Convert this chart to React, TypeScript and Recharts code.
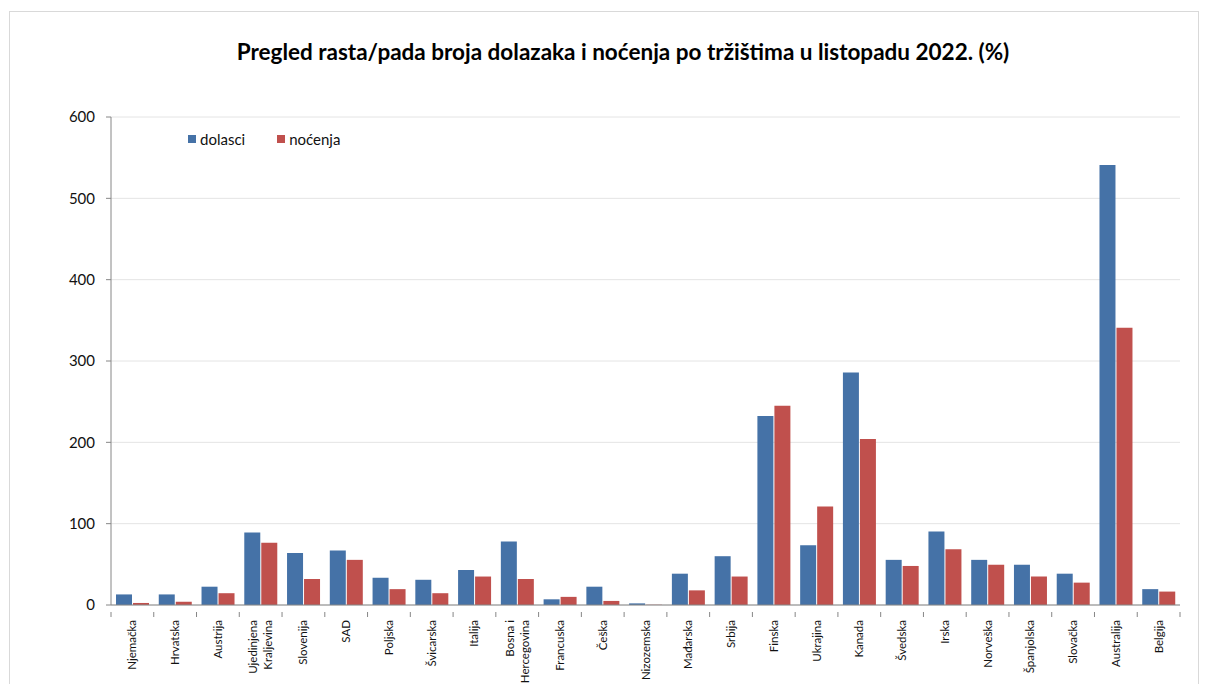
import { BarChart, Bar, XAxis, YAxis, CartesianGrid } from "recharts";

const categories = [
  "Njemačka",
  "Hrvatska",
  "Austrija",
  "Ujedinjena Kraljevina",
  "Slovenija",
  "SAD",
  "Poljska",
  "Švicarska",
  "Italija",
  "Bosna i Hercegovina",
  "Francuska",
  "Češka",
  "Nizozemska",
  "Mađarska",
  "Srbija",
  "Finska",
  "Ukrajina",
  "Kanada",
  "Švedska",
  "Irska",
  "Norveška",
  "Španjolska",
  "Slovačka",
  "Australija",
  "Belgija",
];

const dolasci = [
  13, 13, 22.5, 89, 64, 67, 33.5, 31, 43, 78, 7, 22.5, 2, 38.5, 60, 232.5, 73.5, 286, 55.5, 90.5,
  55.5, 49.5, 38.5, 541, 19.5,
];

const nocenja = [
  2.5, 4, 14.5, 76.5, 32, 55.5, 19.5, 14.5, 35, 32, 10, 5, 0.3, 18, 35, 245, 121, 204, 48, 68.5,
  49.5, 35, 27.5, 341, 16.5,
];

const yTicks = [0, 100, 200, 300, 400, 500, 600];

// line breaks used for the two long category names
const labelLines: Record<string, string[]> = {
  "Ujedinjena Kraljevina": ["Ujedinjena", "Kraljevina"],
  "Bosna i Hercegovina": ["Bosna i", "Hercegovina"],
};

const BLUE = "#4572A7";
const RED = "#C0504D";
const AXIS = "#868686";
const FONT = "Lato, 'Open Sans', sans-serif";

const W = 1180;
const H = 700;
const M = { top: 109, right: 8, left: 0, bottom: 3 };
const Y_W = 103;
const X_H = 100;
const band = (W - M.right - M.left - Y_W) / categories.length;

const data = categories.map((name, i) => ({
  name,
  dolasci: dolasci[i],
  nocenja: nocenja[i],
}));

function CategoryTick(props: any) {
  const { x, y, payload, index } = props;
  const lines = labelLines[payload.value] ?? [payload.value];
  const half = band / 2;
  const ty = y + 7;
  return (
    <g>
      <line x1={x - half} y1={y - 1} x2={x - half} y2={y + 4} stroke={AXIS} />
      {index === categories.length - 1 && (
        <line x1={x + half} y1={y - 1} x2={x + half} y2={y + 4} stroke={AXIS} />
      )}
      {lines.map((ln, k) => {
        const off = lines.length === 1 ? 0 : k === 0 ? -7.5 : 7.5;
        return (
          <text
            key={k}
            x={x + off}
            y={ty}
            transform={`rotate(-90, ${x + off}, ${ty})`}
            textAnchor="end"
            dy="0.35em"
            fontSize={11.5}
            fontFamily={FONT}
            fill="#111"
          >
            {ln}
          </text>
        );
      })}
    </g>
  );
}

function LegendBox() {
  const items = [
    { label: "dolasci", color: BLUE },
    { label: "noćenja", color: RED },
  ];
  return (
    <div
      style={{
        position: "absolute",
        left: 180,
        top: 122,
        display: "flex",
        fontFamily: FONT,
        fontSize: 15,
        lineHeight: "18px",
        color: "#111",
      }}
    >
      {items.map((it) => (
        <div key={it.label} style={{ display: "flex", alignItems: "center", marginRight: 32 }}>
          <span
            style={{ width: 8, height: 8, background: it.color, display: "inline-block", marginRight: 4 }}
          />
          {it.label}
        </div>
      ))}
    </div>
  );
}

export default function App() {
  return (
    <div style={{ position: "relative", width: 1193, height: 676, overflow: "hidden", background: "#fff" }}>
      <div
        style={{
          position: "absolute",
          left: 1,
          top: 3,
          width: 1190,
          height: 720,
          border: "1px solid #d9d9d9",
          boxSizing: "border-box",
        }}
      />
      <div
        style={{
          position: "absolute",
          left: 0,
          top: 30,
          width: 1230,
          textAlign: "center",
          fontFamily: FONT,
          fontWeight: 700,
          fontSize: 22.5,
          lineHeight: "28px",
          color: "#000",
        }}
      >
        Pregled rasta/pada broja dolazaka i noćenja po tržištima u listopadu 2022. (%)
      </div>
      <div style={{ position: "absolute", left: 0, top: 0 }}>
        <BarChart width={W} height={H} data={data} margin={M} barSize={16} barGap={1}>
          <CartesianGrid vertical={false} stroke="#e4e4e4" />
          <XAxis
            dataKey="name"
            interval={0}
            height={X_H}
            tickLine={false}
            axisLine={{ stroke: AXIS }}
            tick={<CategoryTick />}
          />
          <YAxis
            width={Y_W}
            domain={[0, 600]}
            ticks={yTicks}
            tickSize={5}
            tickMargin={11}
            axisLine={{ stroke: AXIS }}
            tickLine={{ stroke: AXIS }}
            tick={{ fontSize: 15, fill: "#111", fontFamily: FONT }}
          />
          <Bar dataKey="dolasci" name="dolasci" fill={BLUE} isAnimationActive={false} />
          <Bar dataKey="nocenja" name="noćenja" fill={RED} isAnimationActive={false} />
        </BarChart>
      </div>
      <LegendBox />
    </div>
  );
}
